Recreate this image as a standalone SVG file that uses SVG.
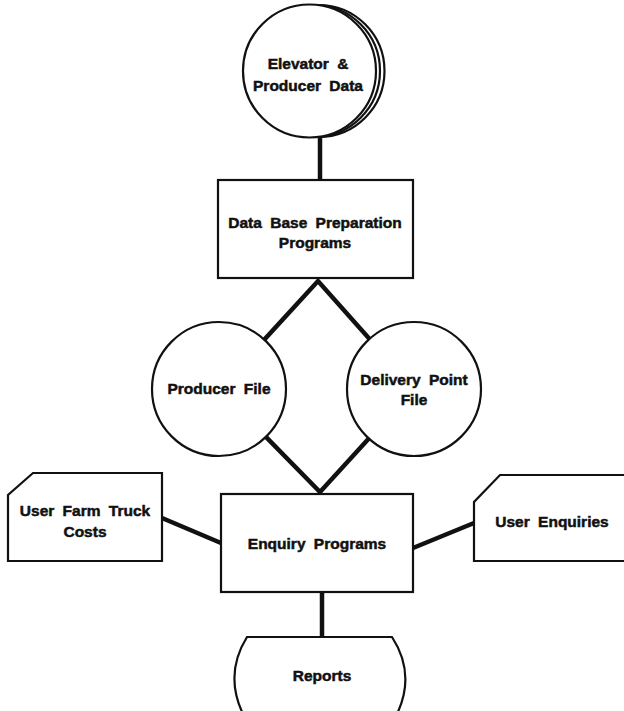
<svg xmlns="http://www.w3.org/2000/svg" width="624" height="711" viewBox="0 0 624 711">
<style>
.shape{fill:#fff;stroke:#111;stroke-width:2.2}
.conn{stroke:#111;stroke-width:4.5;fill:none;stroke-linecap:butt}
text{font-family:"Liberation Sans",Arial,sans-serif;font-weight:bold;font-size:15.5px;fill:#111;stroke:#111;stroke-width:0.5;text-anchor:middle;word-spacing:4px}
</style>
<rect width="624" height="711" fill="#fff"/>
<g id="connectors">
<line class="conn" x1="320" y1="135" x2="320" y2="181"/>
<polyline class="conn" points="219,389 318,281 414,389 320,492 219,389"/>
<line class="conn" x1="162" y1="518" x2="221" y2="543"/>
<line class="conn" x1="413" y1="548" x2="474" y2="523"/>
<line class="conn" x1="322" y1="592" x2="322" y2="638"/>
</g>
<g id="elevator-data">
<circle class="shape" cx="318.5" cy="71" r="66"/>
<circle class="shape" cx="314" cy="71" r="66"/>
<circle class="shape" cx="309.5" cy="71" r="66.5"/>
<text x="308" y="69">Elevator &amp;</text>
<text x="308" y="91">Producer Data</text>
</g>
<g id="db-prep">
<rect class="shape" x="218" y="180" width="195" height="98"/>
<text x="315" y="228">Data Base Preparation</text>
<text x="315" y="248">Programs</text>
</g>
<g id="producer-file">
<circle class="shape" cx="219" cy="389" r="67"/>
<text x="219" y="394">Producer File</text>
</g>
<g id="delivery-file">
<circle class="shape" cx="414" cy="389" r="67"/>
<text x="414" y="385">Delivery Point</text>
<text x="414" y="405">File</text>
</g>
<g id="enquiry">
<rect class="shape" x="221" y="494" width="192" height="98"/>
<text x="317" y="549">Enquiry Programs</text>
</g>
<g id="farm-truck">
<polygon class="shape" points="33,473 162,473 162,561 8,561 8,495"/>
<text x="85" y="516">User Farm Truck</text>
<text x="85" y="537">Costs</text>
</g>
<g id="user-enquiries">
<polygon class="shape" points="500,475 626,475 626,561 474,561 474,502"/>
<text x="552" y="527">User Enquiries</text>
</g>
<g id="reports">
<path class="shape" d="M247,637 H392 Q416,674 397,714 H243 Q224,674 247,637 Z"/>
<text x="322" y="681">Reports</text>
</g>
</svg>
